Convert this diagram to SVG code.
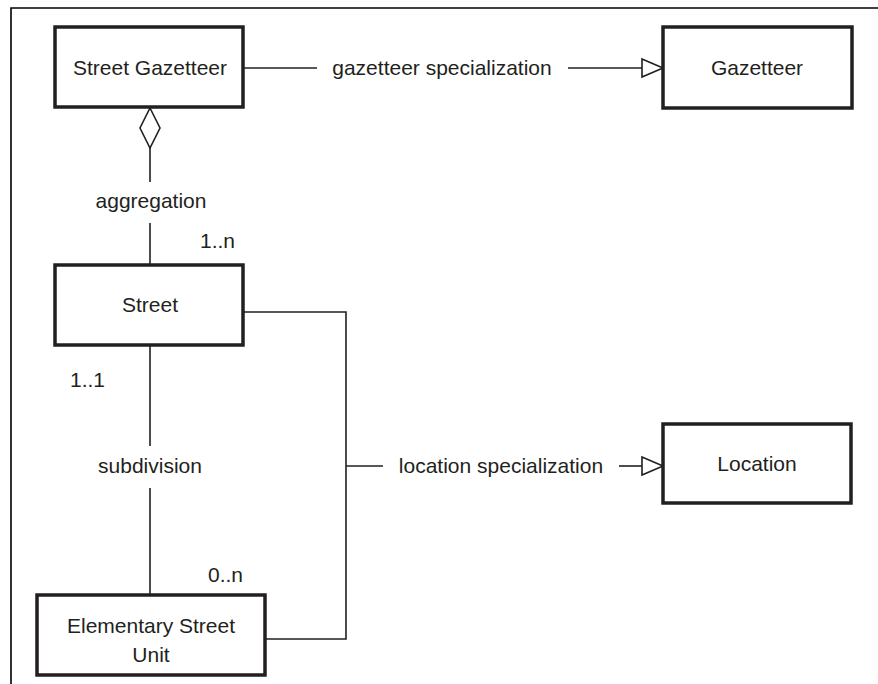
<svg xmlns="http://www.w3.org/2000/svg" width="878" height="684" viewBox="0 0 878 684">
<style>
.box{fill:#fff;stroke:#231f20;stroke-width:3.5}
.ln{fill:none;stroke:#231f20;stroke-width:1.6}
.hd{fill:#fff;stroke:#231f20;stroke-width:1.6}
text{font-family:"Liberation Sans",Arial,sans-serif;font-size:21px;fill:#231f20}
.c{text-anchor:middle}
</style>
<rect width="878" height="684" fill="#fff"/>
<path d="M11,684 V8 H878" fill="none" stroke="#000" stroke-width="1.6"/>
<g id="connectors">
<path class="ln" d="M243,68 H317"/>
<path class="ln" d="M568,68 H642"/>
<polygon class="hd" points="642,59 663,68 642,77"/>
<polygon class="hd" points="150,108 160,128 150,148 140,128"/>
<path class="ln" d="M150,148 V182"/>
<path class="ln" d="M150,223 V265"/>
<path class="ln" d="M150,345 V446"/>
<path class="ln" d="M150,488 V595"/>
<path class="ln" d="M243,312 H346 V639 H265"/>
<path class="ln" d="M346,466 H383"/>
<path class="ln" d="M619,466 H642"/>
<polygon class="hd" points="642,457 663,466 642,475"/>
<text class="c" x="442" y="75">gazetteer specialization</text>
<text class="c" x="151" y="208">aggregation</text>
<text x="200" y="248">1..n</text>
<text x="70" y="387">1..1</text>
<text class="c" x="150" y="473">subdivision</text>
<text x="208" y="582">0..n</text>
<text class="c" x="501" y="473">location specialization</text>
</g>
<g id="street-gazetteer">
<rect class="box" x="55" y="27" width="188" height="80"/>
<text class="c" x="150" y="75">Street Gazetteer</text>
</g>
<g id="gazetteer">
<rect class="box" x="663" y="27" width="189" height="81"/>
<text class="c" x="757" y="75">Gazetteer</text>
</g>
<g id="street">
<rect class="box" x="55" y="265" width="188" height="80"/>
<text class="c" x="150" y="312">Street</text>
</g>
<g id="elementary-street-unit">
<rect class="box" x="37" y="595" width="228" height="80"/>
<text class="c" x="151" y="633">Elementary Street</text>
<text class="c" x="151" y="662">Unit</text>
</g>
<g id="location">
<rect class="box" x="663" y="424" width="188" height="79"/>
<text class="c" x="757" y="471">Location</text>
</g>
</svg>
